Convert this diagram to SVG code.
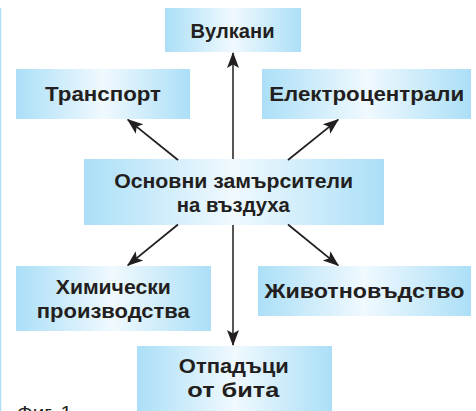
<svg xmlns="http://www.w3.org/2000/svg" width="476" height="411" viewBox="0 0 476 411">
<style>
.box{fill:url(#g)}
text{font-family:"Liberation Sans",Arial,sans-serif;font-weight:700;font-size:20px;fill:#231f20;text-anchor:middle}
.c line{stroke:#231f20;stroke-width:1.8;marker-end:url(#a)}
.c line.v{stroke:#444}
</style>
<defs>
<linearGradient id="g"><stop offset="0" stop-color="#abdff7"/><stop offset=".5" stop-color="#f0f9fe"/><stop offset="1" stop-color="#abdff7"/></linearGradient>
<marker id="a" markerUnits="userSpaceOnUse" markerWidth="20" markerHeight="20" refX="15" refY="7" orient="auto"><path d="M0 1L16 7L0 13L3.5 7Z" fill="#231f20"/></marker>
</defs>
<rect width="476" height="411" fill="#fff"/>
<rect x="0" y="8" width="1.2" height="403" fill="#abdff7"/>
<g id="n-vulkani"><rect class="box" x="165" y="8" width="136" height="44"/><text x="232.5" y="38" textLength="84" lengthAdjust="spacingAndGlyphs">Вулкани</text></g>
<g id="n-transport"><rect class="box" x="16" y="69" width="174" height="50"/><text x="103" y="101" textLength="116" lengthAdjust="spacingAndGlyphs">Транспорт</text></g>
<g id="n-elektro"><rect class="box" x="262" y="69" width="209" height="50"/><text x="366.7" y="101" textLength="195" lengthAdjust="spacingAndGlyphs">Електроцентрали</text></g>
<g id="n-center"><rect class="box" x="84" y="159" width="300" height="66"/><text x="233.7" y="188" textLength="239" lengthAdjust="spacingAndGlyphs">Основни замърсители</text><text x="233.3" y="212" textLength="113" lengthAdjust="spacingAndGlyphs">на въздуха</text></g>
<g id="n-himicheski"><rect class="box" x="16" y="266" width="195" height="65"/><text x="113.3" y="294" textLength="115" lengthAdjust="spacingAndGlyphs">Химически</text><text x="113.3" y="318" textLength="153" lengthAdjust="spacingAndGlyphs">производства</text></g>
<g id="n-zhivotno"><rect class="box" x="258" y="266" width="213" height="50"/><text x="364.5" y="298" textLength="200" lengthAdjust="spacingAndGlyphs">Животновъдство</text></g>
<g id="n-otpadaci"><rect class="box" x="137" y="346" width="195" height="65"/><text x="233.8" y="373" textLength="110" lengthAdjust="spacingAndGlyphs">Отпадъци</text><text x="233.3" y="397" textLength="92" lengthAdjust="spacingAndGlyphs">от бита</text></g>
<text x="17" y="419" textLength="55" lengthAdjust="spacingAndGlyphs" style="font-weight:400;font-size:19px;text-anchor:start">Фиг. 1</text>
<g id="connectors" class="c">
<line class="v" x1="233" y1="159" x2="233" y2="53"/>
<line x1="178" y1="160" x2="127.8" y2="119.6"/>
<line x1="288" y1="160" x2="338.2" y2="119.6"/>
<line x1="178" y1="224.5" x2="127.8" y2="265.4"/>
<line x1="288" y1="224.5" x2="338.2" y2="265.4"/>
<line class="v" x1="233" y1="225" x2="233" y2="345"/>
</g>
</svg>
